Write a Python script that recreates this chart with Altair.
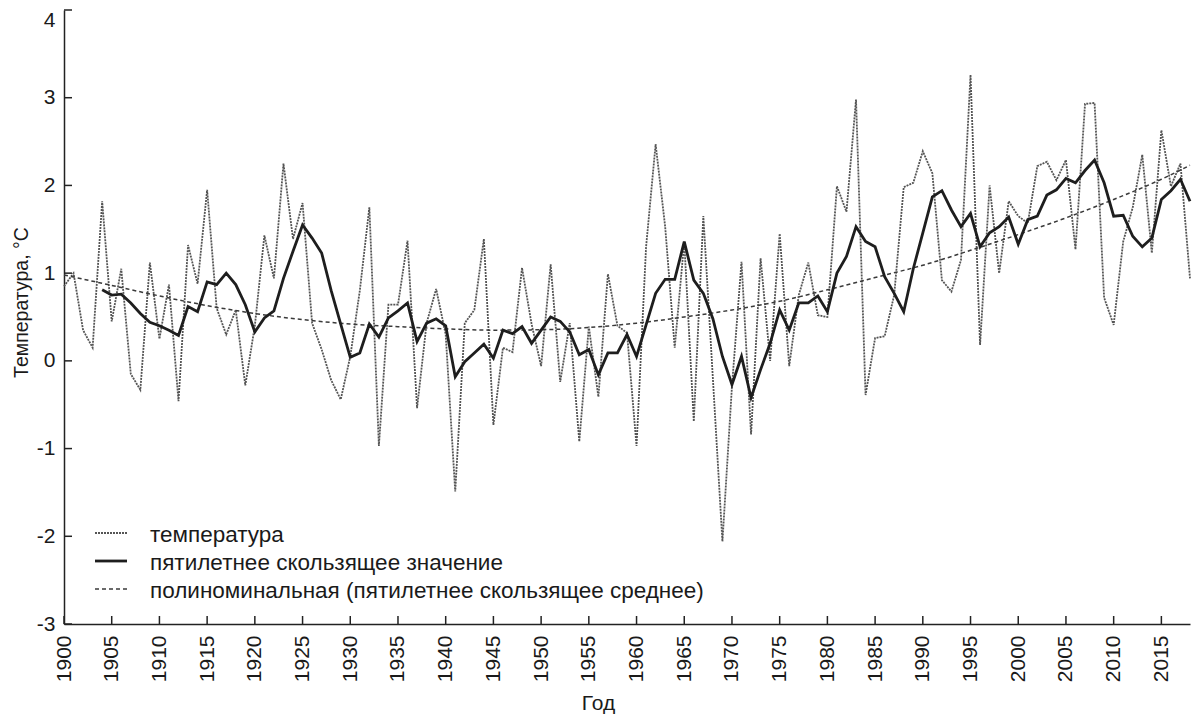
import altair as alt
import pandas as pd

# ---------------- data ----------------
years = list(range(1900, 2019))
temperature = [
    0.85, 1.00, 0.35, 0.15, 1.82, 0.45, 1.05, -0.15, -0.33, 1.12,   # 1900-1909
    0.25, 0.87, -0.46, 1.32, 0.88, 1.95, 0.60, 0.30, 0.58, -0.28,   # 1910-1919
    0.40, 1.43, 0.94, 2.25, 1.39, 1.80, 0.43, 0.13, -0.22, -0.44,   # 1920-1929
    0.05, 0.80, 1.75, -0.97, 0.64, 0.64, 1.37, -0.54, 0.43, 0.82,   # 1930-1939
    0.30, -1.49, 0.43, 0.58, 1.39, -0.73, 0.15, 0.10, 1.06, 0.42,   # 1940-1949
    -0.06, 1.10, -0.24, 0.43, -0.92, 0.39, -0.41, 0.99, 0.40, 0.32, # 1950-1959
    -0.97, 1.30, 2.47, 1.53, 0.15, 1.36, -0.69, 1.65, -0.20, -2.06, # 1960-1969
    -0.29, 1.13, -0.84, 1.17, 0.00, 1.45, -0.06, 0.75, 1.12, 0.52,  # 1970-1979
    0.50, 1.99, 1.70, 2.98, -0.39, 0.26, 0.28, 0.75, 1.98, 2.03,    # 1980-1989
    2.39, 2.14, 0.92, 0.79, 1.15, 3.26, 0.18, 2.00, 1.00, 1.82,     # 1990-1999
    1.65, 1.57, 2.22, 2.27, 2.06, 2.29, 1.27, 2.93, 2.94, 0.72,     # 2000-2009
    0.41, 1.36, 1.75, 2.35, 1.23, 2.63, 1.99, 2.25, 0.94,           # 2010-2018
]

ma_years = list(range(1904, 2019))
moving_avg = [
    0.81, 0.75, 0.76, 0.66, 0.54, 0.44,                             # 1904-1909
    0.40, 0.35, 0.29, 0.62, 0.56, 0.90, 0.87, 1.00, 0.87, 0.64,     # 1910-1919
    0.33, 0.49, 0.57, 0.94, 1.25, 1.55, 1.40, 1.23, 0.80, 0.42,     # 1920-1929
    0.04, 0.09, 0.42, 0.27, 0.49, 0.57, 0.66, 0.22, 0.43, 0.48,     # 1930-1939
    0.40, -0.18, -0.01, 0.09, 0.19, 0.03, 0.35, 0.31, 0.39, 0.20,   # 1940-1949
    0.35, 0.50, 0.45, 0.33, 0.07, 0.13, -0.16, 0.09, 0.09, 0.30,    # 1950-1959
    0.05, 0.41, 0.77, 0.93, 0.93, 1.36, 0.92, 0.77, 0.48, 0.05,     # 1960-1969
    -0.27, 0.05, -0.42, -0.10, 0.20, 0.58, 0.35, 0.66, 0.66, 0.74,  # 1970-1979
    0.56, 1.00, 1.19, 1.53, 1.36, 1.30, 0.96, 0.77, 0.56, 1.05,     # 1980-1989
    1.46, 1.87, 1.94, 1.72, 1.53, 1.68, 1.30, 1.46, 1.53, 1.64,     # 1990-1999
    1.33, 1.61, 1.65, 1.89, 1.95, 2.08, 2.03, 2.17, 2.29, 2.03,     # 2000-2009
    1.65, 1.66, 1.42, 1.30, 1.40, 1.84, 1.94, 2.07, 1.82,           # 2010-2018
]

trend_years = [1900, 1905, 1910, 1915, 1920, 1925, 1930, 1935, 1940, 1945,
               1950, 1955, 1960, 1965, 1970, 1975, 1980, 1985, 1990, 1995,
               2000, 2005, 2010, 2015, 2018]
trend = [0.98, 0.86, 0.74, 0.63, 0.54, 0.47, 0.42, 0.39, 0.365, 0.35,
         0.355, 0.38, 0.43, 0.50, 0.58, 0.68, 0.81, 0.95, 1.09, 1.26,
         1.44, 1.63, 1.84, 2.07, 2.23]

x_ticks = list(range(1900, 2016, 5))
y_ticks = [-3, -2, -1, 0, 1, 2, 3, 4]

legend_labels = [
    "температура",
    "пятилетнее скользящее значение",
    "полиноминальная (пятилетнее скользящее среднее)",
]
x_title = "Год"
y_title = "Температура, °С"

# ---------------- chart ----------------
W, H = 1126, 614
FONT = "Liberation Sans"
TXT = "#1a1a1a"

xscale = alt.Scale(domain=[1900, 2018], nice=False, zero=False)
yscale = alt.Scale(domain=[-3, 4], nice=False, zero=False)

xaxis = alt.Axis(
    values=x_ticks, format="d", labelAngle=-90, labelFont=FONT, labelFontSize=21,
    labelColor=TXT, labelPadding=11, ticks=False, tickSize=0, grid=False,
    domainColor="#222222", domainWidth=1.5, labelFlush=False, labelOverlap=False,
    title=x_title, titleFont=FONT, titleFontSize=21, titleFontWeight="normal",
    titleColor=TXT, titleX=534, titleY=85, titleAlign="center",
    titleBaseline="alphabetic",
)
yaxis = alt.Axis(
    values=y_ticks, labelExpr="'' + datum.value", labelFont=FONT, labelFontSize=21,
    labelColor=TXT, labelPadding=9, ticks=False, tickSize=0, grid=False,
    labelOffset={"condition": {"test": "datum.value === 4", "value": 10}, "value": 0},
    domainColor="#222222", domainWidth=1.5, labelOverlap=False,
    title=y_title, titleFont=FONT, titleFontSize=19.5, titleFontWeight="normal",
    titleColor=TXT, titleX=-37, titleY=292, titleAngle=270, titleAlign="center",
    titleBaseline="alphabetic",
)

X = alt.X("year:Q", scale=xscale, axis=xaxis)
Y = alt.Y("value:Q", scale=yscale, axis=yaxis)

df_temp = pd.DataFrame({"year": years, "value": temperature})
df_ma = pd.DataFrame({"year": ma_years, "value": moving_avg})
df_tr = pd.DataFrame({"year": trend_years, "value": trend})
df_xt = pd.DataFrame({"year": x_ticks})
df_yt = pd.DataFrame({"value": y_ticks})

TEMP_STYLE = dict(color="#555555", strokeWidth=1.8, strokeDash=[2, 1])
MA_STYLE = dict(color="#1e1e1e", strokeWidth=2.8)
TR_STYLE = dict(color="#3a3a3a", strokeWidth=1.5, strokeDash=[4, 3])

temp_line = alt.Chart(df_temp).mark_line(**TEMP_STYLE).encode(x=X, y=Y)
trend_line = alt.Chart(df_tr).mark_line(interpolate="monotone", **TR_STYLE).encode(x=X, y=Y)
ma_line = alt.Chart(df_ma).mark_line(**MA_STYLE).encode(x=X, y=Y)

xticks = alt.Chart(df_xt).mark_rule(color="#222222", strokeWidth=1.5).encode(
    x=X, y=alt.value(H), y2=alt.value(H - 8))
yticks = alt.Chart(df_yt).mark_rule(color="#222222", strokeWidth=1.5).encode(
    y=Y, x=alt.value(0), x2=alt.value(8))

legend_layers = []
styles = [TEMP_STYLE, MA_STYLE, TR_STYLE]
sym_y = [523, 551, 579]
txt_y = [525, 553, 581]
for lab, st, sy, ty in zip(legend_labels, styles, sym_y, txt_y):
    d = pd.DataFrame({"label": [lab]})
    legend_layers.append(
        alt.Chart(d).mark_rule(**st).encode(x=alt.value(31), x2=alt.value(63), y=alt.value(sy))
    )
    legend_layers.append(
        alt.Chart(d).mark_text(align="left", baseline="middle", font=FONT, fontSize=22.5,
                               color=TXT).encode(x=alt.value(86), y=alt.value(ty), text="label:N")
    )

chart = alt.layer(temp_line, trend_line, ma_line, xticks, yticks, *legend_layers).properties(
    width=W, height=H,
    padding={"left": 56, "top": 2, "right": 2, "bottom": 90},
    autosize=alt.AutoSizeParams(type="none"),
).configure_view(stroke=None)

chart.save("out.html", embed_options={"renderer": "svg", "actions": False})
